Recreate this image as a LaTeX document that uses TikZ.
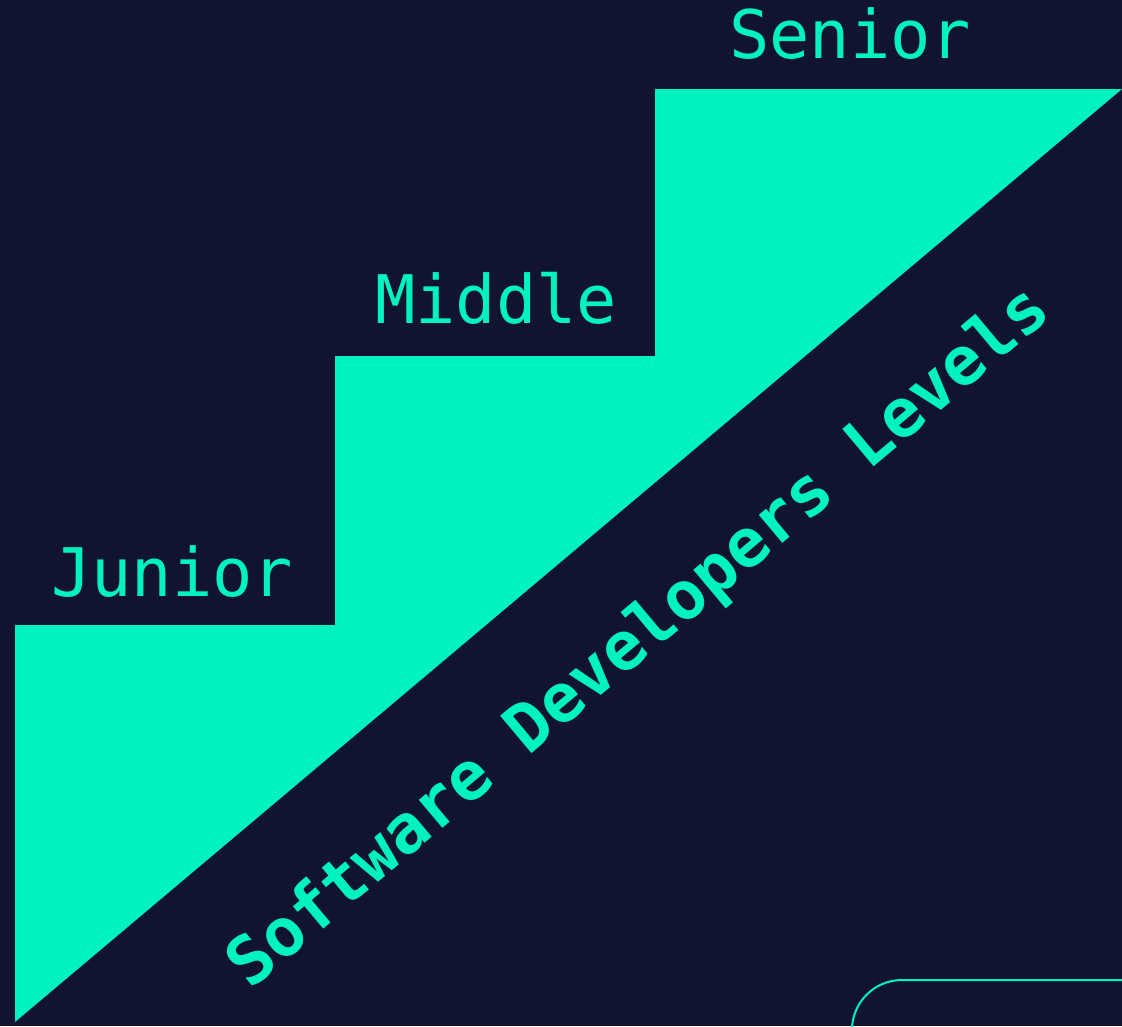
\documentclass[tikz,border=0pt]{standalone}
\usepackage{fontspec}
\newfontfamily\monofont{DejaVu Sans Mono}
\definecolor{navy}{HTML}{11142F}
\definecolor{mint}{HTML}{00F2BE}
\begin{document}
\begin{tikzpicture}[x=1pt,y=-1pt,
  level/.style={inner sep=0pt, anchor=base west, text=mint, font=\monofont\fontsize{67}{67}\selectfont},
  title/.style={inner sep=0pt, anchor=base, text=mint, rotate=40, font=\monofont\bfseries\fontsize{67}{67}\selectfont}]
  % background
  \fill[navy] (0,0) rectangle (1122,1026);
  \useasboundingbox (0,0) rectangle (1122,1026);
  % staircase
  \coordinate (bl) at (15,1022);
  \coordinate (tr) at (1122,89);
  \fill[mint] (bl) -- (15,625) -- (335,625) -- (335,356) -- (655,356) -- (655,89) -- (tr) -- cycle;
  % level labels
  \node[level] (junior) at (51,596) {Junior};
  \node[level] (middle) at (375,323) {Middle};
  \node[level] (senior) at (729,58) {Senior};
  % diagonal title
  \node[title] (caption) at (652,653) {Software Developers Levels};
  % rounded frame in the lower right corner
  \coordinate (framestart) at (852,1040);
  \coordinate (framecorner) at (852,980);
  \coordinate (frameend) at (1140,980);
  \draw[mint, line width=2pt, rounded corners=50pt] (framestart) -- (framecorner) -- (frameend);
\end{tikzpicture}
\end{document}
